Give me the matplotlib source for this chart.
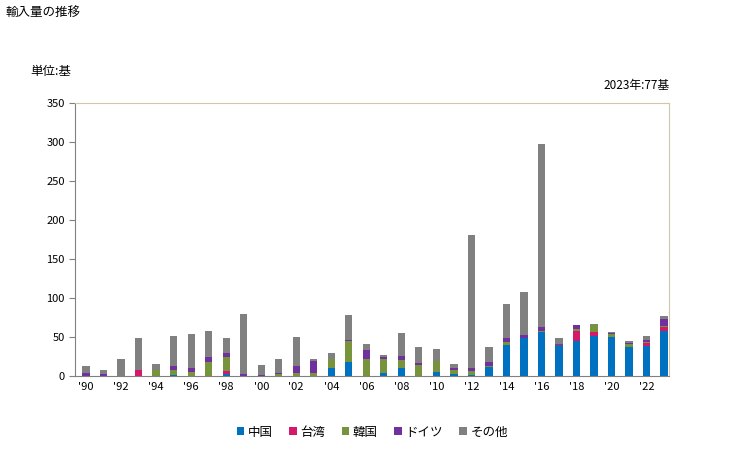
import matplotlib
matplotlib.use("Agg")
import matplotlib.pyplot as plt
import numpy as np

plt.rcParams['font.family'] = ['Noto Sans CJK JP', 'DejaVu Sans']

# years 1990-2023
years = list(range(1990, 2024))
china  = [0, 0, 0, 0, 0, 1, 0, 0, 3, 0, 0, 0, 0, 0, 10, 18, 0, 4, 11, 0, 6, 3, 1, 12, 40, 49, 57, 40, 45, 51, 50, 38, 39, 58]
taiwan = [0, 0, 0, 8, 0, 0, 0, 0, 4, 0, 0, 0, 0, 0, 0, 0, 0, 0, 0, 0, 0, 0, 0, 0, 0, 0, 0, 1, 13, 6, 0, 0, 3, 5]
korea  = [0, 0, 0, 0, 8, 7, 6, 18, 17, 0, 0, 3, 4, 4, 12, 27, 22, 18, 10, 14, 14, 5, 6, 1, 4, 0, 1, 0, 3, 9, 4, 3, 2, 1]
germany = [4, 3, 0, 0, 0, 5, 5, 6, 6, 3, 1, 1, 9, 15, 0, 1, 12, 3, 5, 3, 0, 2, 4, 5, 5, 4, 5, 0, 4, 0, 1, 1, 3, 9]
others = [9, 5, 22, 41, 7, 38, 43, 34, 19, 77, 13, 18, 37, 3, 8, 32, 7, 2, 29, 20, 15, 5, 170, 20, 43, 55, 235, 8, 1, 1, 1, 3, 5, 4]

series = [("中国", china, "#0070C0"),
          ("台湾", taiwan, "#D4196A"),
          ("韓国", korea, "#77933C"),
          ("ドイツ", germany, "#7030A0"),
          ("その他", others, "#808080")]

fig = plt.figure(figsize=(7.29, 4.5), dpi=100)
ax = fig.add_axes([0.103, 0.164, 0.815, 0.607])

x = np.arange(len(years))
bottom = np.zeros(len(years))
for name, vals, col in series:
    ax.bar(x, vals, 0.42, bottom=bottom, color=col, label=name)
    bottom += np.array(vals)

ax.set_xlim(-0.63, 33.3)
ax.set_ylim(0, 350)
ax.set_yticks(range(0, 351, 50))
ax.set_xticks(x[::2])
ax.set_xticklabels(["'%02d" % (y % 100) for y in years[::2]])
ax.tick_params(axis='both', labelsize=8, length=4, color='#808080')
ax.tick_params(axis='x', length=0, pad=4)

for s in ['left', 'bottom']:
    ax.spines[s].set_color('#808080')
for s in ['top', 'right']:
    ax.spines[s].set_color('#CFC8A8')

fig.text(0.007, 0.972, "輸入量の推移", fontsize=9, va='center')
fig.text(0.041, 0.84, "単位:基", fontsize=9, va='center')
fig.text(0.918, 0.81, "2023年:77基", fontsize=8.5, ha='right', va='center')

ax.legend(loc='upper center', bbox_to_anchor=(0.5, -0.14), ncol=5, frameon=False,
          fontsize=9, handlelength=0.6, handleheight=0.6, handletextpad=0.3, columnspacing=1.3)

fig.savefig("out.png", dpi=100)
